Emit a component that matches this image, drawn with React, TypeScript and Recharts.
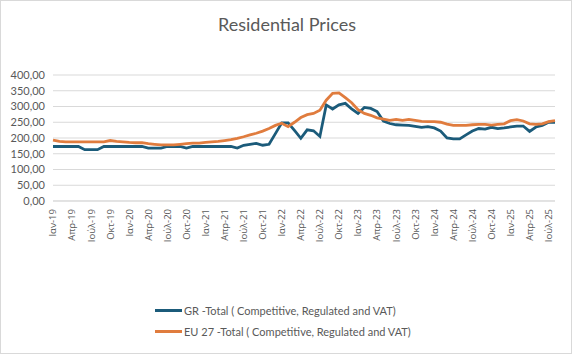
import React from 'react';
import { LineChart, Line, XAxis, YAxis, CartesianGrid, Legend } from 'recharts';

const monthNames = ['Ιαν', 'Φεβ', 'Μαρ', 'Απρ', 'Μαΐ', 'Ιουν', 'Ιούλ', 'Αυγ', 'Σεπ', 'Οκτ', 'Νοε', 'Δεκ'];
const years = ['19', '20', '21', '22', '23', '24', '25'];
const lastYearMonths = 8;

const grTotal = [
  173, 173, 173, 173, 173, 163, 163, 163, 173, 173, 173, 173,
  173, 173, 173, 168, 168, 168, 173, 173, 173, 168, 173, 173,
  173, 173, 173, 173, 173, 168, 177, 180, 183, 177, 180, 214,
  248, 248, 224, 199, 226, 223, 205, 305, 292, 305, 310, 292,
  278, 297, 294, 284, 254, 246, 242, 241, 240, 237, 234, 236,
  232, 222, 200, 197, 197, 210, 222, 230, 228, 234, 230, 232,
  235, 238, 238, 221, 235, 240, 250, 250,
];

const euTotal = [
  193, 189, 188, 188, 188, 188, 188, 188, 188, 192, 189, 188,
  186, 185, 185, 182, 180, 178, 178, 178, 180, 182, 184, 184,
  186, 188, 189, 192, 195, 199, 204, 210, 215, 222, 230, 240,
  247, 236, 250, 265, 274, 278, 288, 320, 342, 343, 328, 312,
  290, 278, 272, 264, 260, 256, 259, 256, 259, 256, 253, 252,
  252, 250, 244, 240, 240, 240, 242, 243, 243, 241, 243, 245,
  255, 258, 254, 245, 243, 245, 252, 255,
];

const yTicks = [0, 50, 100, 150, 200, 250, 300, 350, 400];

const seriesNames = {
  gr: 'GR -Total ( Competitive, Regulated and VAT)',
  eu: 'EU 27 -Total ( Competitive, Regulated and VAT)',
};
const seriesOrder = ['gr', 'eu'];

const categories: string[] = [];
years.forEach((y, yi) => {
  const count = yi === years.length - 1 ? lastYearMonths : 12;
  for (let m = 0; m < count; m++) categories.push(`${monthNames[m]}-${y}`);
});

const data = categories.map((c, i) => ({ month: c, gr: grTotal[i], eu: euTotal[i] }));

const GREY = '#595959';

const XTick = (props: any) => {
  const { x, y, payload } = props;
  return (
    <text
      x={x}
      y={y}
      transform={`rotate(-90, ${x}, ${y})`}
      textAnchor="end"
      dy="0.36em"
      fill={GREY}
      fontSize={9.5}
      fontFamily="'Open Sans', sans-serif"
    >
      {payload.value}
    </text>
  );
};

const fmt = (v: number) => v.toFixed(2).replace('.', ',');

const LegendContent = (props: any) => {
  const payload = [...(props.payload || [])].sort(
    (a: any, b: any) => seriesOrder.indexOf(a.dataKey) - seriesOrder.indexOf(b.dataKey)
  );
  return (
    <div style={{ fontFamily: 'Lato, sans-serif', fontSize: 11, color: GREY }}>
      {payload.map((p: any, i: number) => (
        <div key={i} style={{ display: 'flex', alignItems: 'center', height: 21 }}>
          <span style={{ display: 'inline-block', width: 27, height: 3, background: p.color, marginRight: 2 }} />
          <span>{p.value}</span>
        </div>
      ))}
    </div>
  );
};

export default function App() {
  return (
    <div
      style={{
        position: 'absolute',
        left: 0,
        top: 0,
        width: 572,
        height: 354,
        background: '#fff',
        boxSizing: 'border-box',
        border: '1px solid #d9d9d9',
      }}
    >
      <div
        style={{
          position: 'absolute',
          left: 0,
          width: 572,
          top: 12,
          textAlign: 'center',
          fontFamily: 'Lato, sans-serif',
          fontSize: 18,
          color: GREY,
        }}
      >
        Residential Prices
      </div>
      <div style={{ position: 'absolute', left: -1, top: -1 }}>
        <LineChart width={572} height={354} data={data} margin={{ top: 75, right: 17, bottom: 71, left: 0 }}>
          <CartesianGrid vertical={false} stroke="#d9d9d9" />
          <XAxis
            dataKey="month"
            interval={2}
            height={40}
            tick={<XTick />}
            tickLine={false}
            axisLine={{ stroke: '#d9d9d9' }}
          />
          <YAxis
            domain={[0, 400]}
            ticks={yTicks}
            interval={0}
            width={53}
            tickFormatter={fmt}
            axisLine={false}
            tickLine={false}
            tick={{ fill: GREY, fontSize: 11, fontFamily: 'Lato, sans-serif' }}
          />
          <Legend
            layout="vertical"
            align="center"
            verticalAlign="bottom"
            content={<LegendContent />}
            wrapperStyle={{ position: 'absolute', left: 155, top: 300, width: 300, bottom: 'auto' }}
          />
          <Line
            type="linear"
            dataKey="gr"
            name={seriesNames.gr}
            stroke="#1b5b7a"
            strokeWidth={2.8}
            dot={false}
            activeDot={false}
            isAnimationActive={false}
          />
          <Line
            type="linear"
            dataKey="eu"
            name={seriesNames.eu}
            stroke="#e07c3e"
            strokeWidth={2.8}
            dot={false}
            activeDot={false}
            isAnimationActive={false}
          />
        </LineChart>
      </div>
    </div>
  );
}
